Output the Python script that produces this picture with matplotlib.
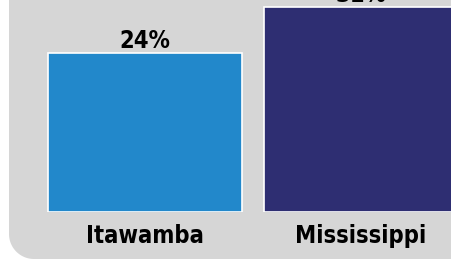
import matplotlib
matplotlib.use("Agg")
import matplotlib.pyplot as plt
from matplotlib.path import Path
from matplotlib.patches import PathPatch
import numpy as np

categories = ["Itawamba", "Mississippi"]
values = [24, 31]
value_labels = ["24%", "31%"]
colors = ["#2288CB", "#2E2E72"]

W, H = 451, 261
fig = plt.figure(figsize=(W / 100, H / 100), dpi=100)
fig.patch.set_facecolor("white")

# gray panel with rounded bottom-left corner (extends beyond top/right)
r = 25
x0, y0 = 9, H - 259
th = np.linspace(np.pi, 1.5 * np.pi, 30)
cx, cy = x0 + r, y0 + r
arc = np.column_stack([cx + r * np.cos(th), cy + r * np.sin(th)])
verts = np.vstack([[x0, H + 10], arc, [W + 10, y0], [W + 10, H + 10], [x0, H + 10]])
verts[:, 0] /= W
verts[:, 1] /= H
pp = PathPatch(Path(verts), transform=fig.transFigure, facecolor="#D6D6D6",
               edgecolor="none", zorder=-5)
fig.patches.append(pp)

base = H - 212
ax = fig.add_axes([0, base / H, 1, (H - base) / H])
ax.set_zorder(2)
ax.set_facecolor("none")
px_per_unit = 216
c0 = 145
ax.set_xlim(-c0 / px_per_unit, (W - c0) / px_per_unit)
ypx = 159 / 24
ax.set_ylim(0, (H - base) / ypx)
xs = np.arange(len(categories))
ax.bar(xs, values, width=0.9, color=colors, edgecolor="white",
       linewidth=1.2, zorder=2)
ax.axis("off")

fam = ["DejaVu Sans"]
for x, v, lab in zip(xs, values, value_labels):
    ax.text(x, v + 5 / ypx, lab, ha="center", va="baseline", fontsize=17,
            fontweight="bold", family=fam, fontstretch="condensed", clip_on=False)
for x, cat in zip(xs, categories):
    ax.text(x, -31 / ypx, cat, ha="center", va="baseline", fontsize=17,
            fontweight="bold", family=fam, fontstretch="condensed", clip_on=False)

fig.savefig("out.png", dpi=100)
